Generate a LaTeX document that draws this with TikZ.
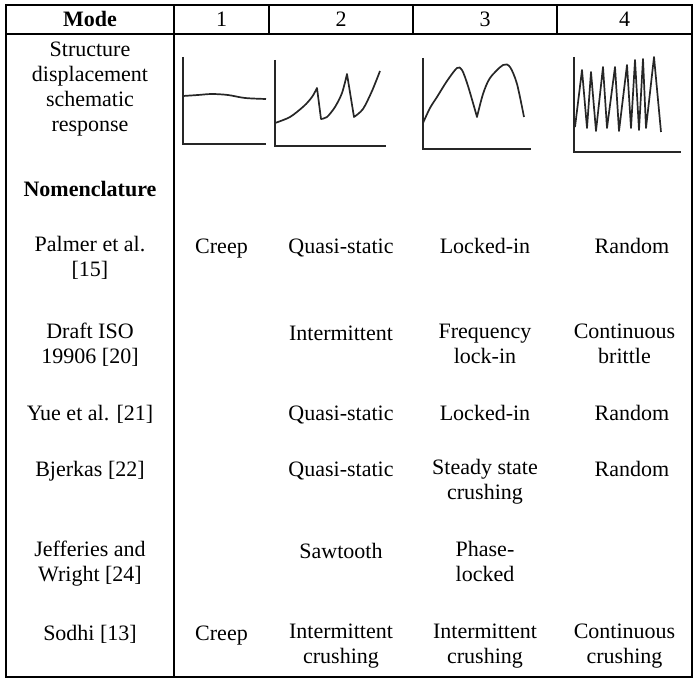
\documentclass[tikz,border=0pt]{standalone}
\usepackage{fontspec}
\setmainfont{Liberation Serif}
\tikzset{
  cell/.style={
    font=\fontsize{22}{25}\selectfont, align=center, inner sep=0pt,
    execute at begin node=\strut, execute at end node=\strut
  },
  headcell/.style={cell, font=\fontsize{22}{25}\selectfont\bfseries},
  frame/.style={line width=1.8pt},
  rule/.style={line width=1.4pt},
  axis/.style={line width=1.6pt, draw=black!85},
  trace/.style={line width=1.7pt, draw=black!85, line join=round}
}

\begin{document}
\begin{tikzpicture}[x=1pt, y=-1pt]
\useasboundingbox (0,0) rectangle (696,679);

% table lines
\draw[frame] (6,5) rectangle (692,677);
\draw[rule] (6,34) -- (692,34);
\draw[rule] (174,5) -- (174,677);
\foreach \xx in {269,413,557}
  \draw[rule] (\xx,5) -- (\xx,34);

% header
\node[headcell] (mode) at (90,22) {Mode};
\node[cell] (mone) at (221.5,22) {1};
\node[cell] (mtwo) at (341,22) {2};
\node[cell] (mthree) at (485,22) {3};
\node[cell] (mfour) at (624.5,22) {4};

% schematic responses
\node[cell] (struct) at (90,90.5) {Structure\\displacement\\schematic\\response};

% mode 1
\draw[axis] (183,57) -- (183,144) -- (266,144);
\draw[trace] plot[smooth] coordinates {(183,96) (198,95) (212,94) (228,95) (245,98) (266,99)};

% mode 2
\draw[axis] (275,60) -- (275,146) -- (386,146);
\draw[trace] plot[smooth] coordinates {(275,123) (290,117) (304,106) (312,97) (317,88)}
  -- plot[smooth] coordinates {(321,119) (327,117) (335,107) (342,93) (347,74)}
  -- plot[smooth] coordinates {(354,117) (363,109) (372,91) (380,71)};

% mode 3
\draw[axis] (423,58) -- (423,149) -- (531,149);
\draw[trace] plot[smooth] coordinates {(423,123) (430,108) (437,97) (447,81) (457,68) (462,70) (468,86) (477,117)}
  -- plot[smooth] coordinates {(477,117) (483,94) (490,78) (503,65) (510,67) (517,84) (524,117)};

% mode 4
\draw[axis] (574,57) -- (574,152) -- (681,152);
\draw[trace] (575,127) -- (582,70) -- (587,128) -- (591,72) -- (596,131) -- (603,67)
  -- (607,128) -- (615,67) -- (619,131) -- (627,65) -- (631,128) -- (635,60)
  -- (639,130) -- (643,59) -- (646,128) -- (654,57) -- (661,132);

% nomenclature
\node[headcell] (nomen) at (90,192) {Nomenclature};

\node[cell] (palmer) at (90,260.5) {Palmer et al.\\{[15]}};
\node[cell] (creepA) at (221.5,248) {Creep};
\node[cell] (quasiA) at (341,248) {Quasi-static};
\node[cell] (lockedA) at (485,248) {Locked-in};
\node[cell] (randomA) at (632,248) {Random};

\node[cell] (draft) at (90,347.5) {Draft ISO\\19906 [20]};
\node[cell] (intermA) at (341,335) {Intermittent};
\node[cell] (freq) at (485,347.5) {Frequency\\lock-in};
\node[cell] (brittle) at (624.5,347.5) {Continuous\\brittle};

\node[cell] (yue) at (90,415) {Yue et al. [21]};
\node[cell] (quasiB) at (341,415) {Quasi-static};
\node[cell] (lockedB) at (485,415) {Locked-in};
\node[cell] (randomB) at (632,415) {Random};

\node[cell] (bjerkas) at (90,471) {Bjerkas [22]};
\node[cell] (quasiC) at (341,471) {Quasi-static};
\node[cell] (steady) at (485,483.5) {Steady state\\crushing};
\node[cell] (randomC) at (632,471) {Random};

\node[cell] (jefferies) at (90,565.5) {Jefferies and\\Wright [24]};
\node[cell] (saw) at (341,553) {Sawtooth};
\node[cell] (phase) at (485,565.5) {Phase-\\locked};

\node[cell] (sodhi) at (90,635) {Sodhi [13]};
\node[cell] (creepB) at (221.5,635) {Creep};
\node[cell] (intermB) at (341,647.5) {Intermittent\\crushing};
\node[cell] (intermC) at (485,647.5) {Intermittent\\crushing};
\node[cell] (contC) at (624.5,647.5) {Continuous\\crushing};

\end{tikzpicture}
\end{document}
